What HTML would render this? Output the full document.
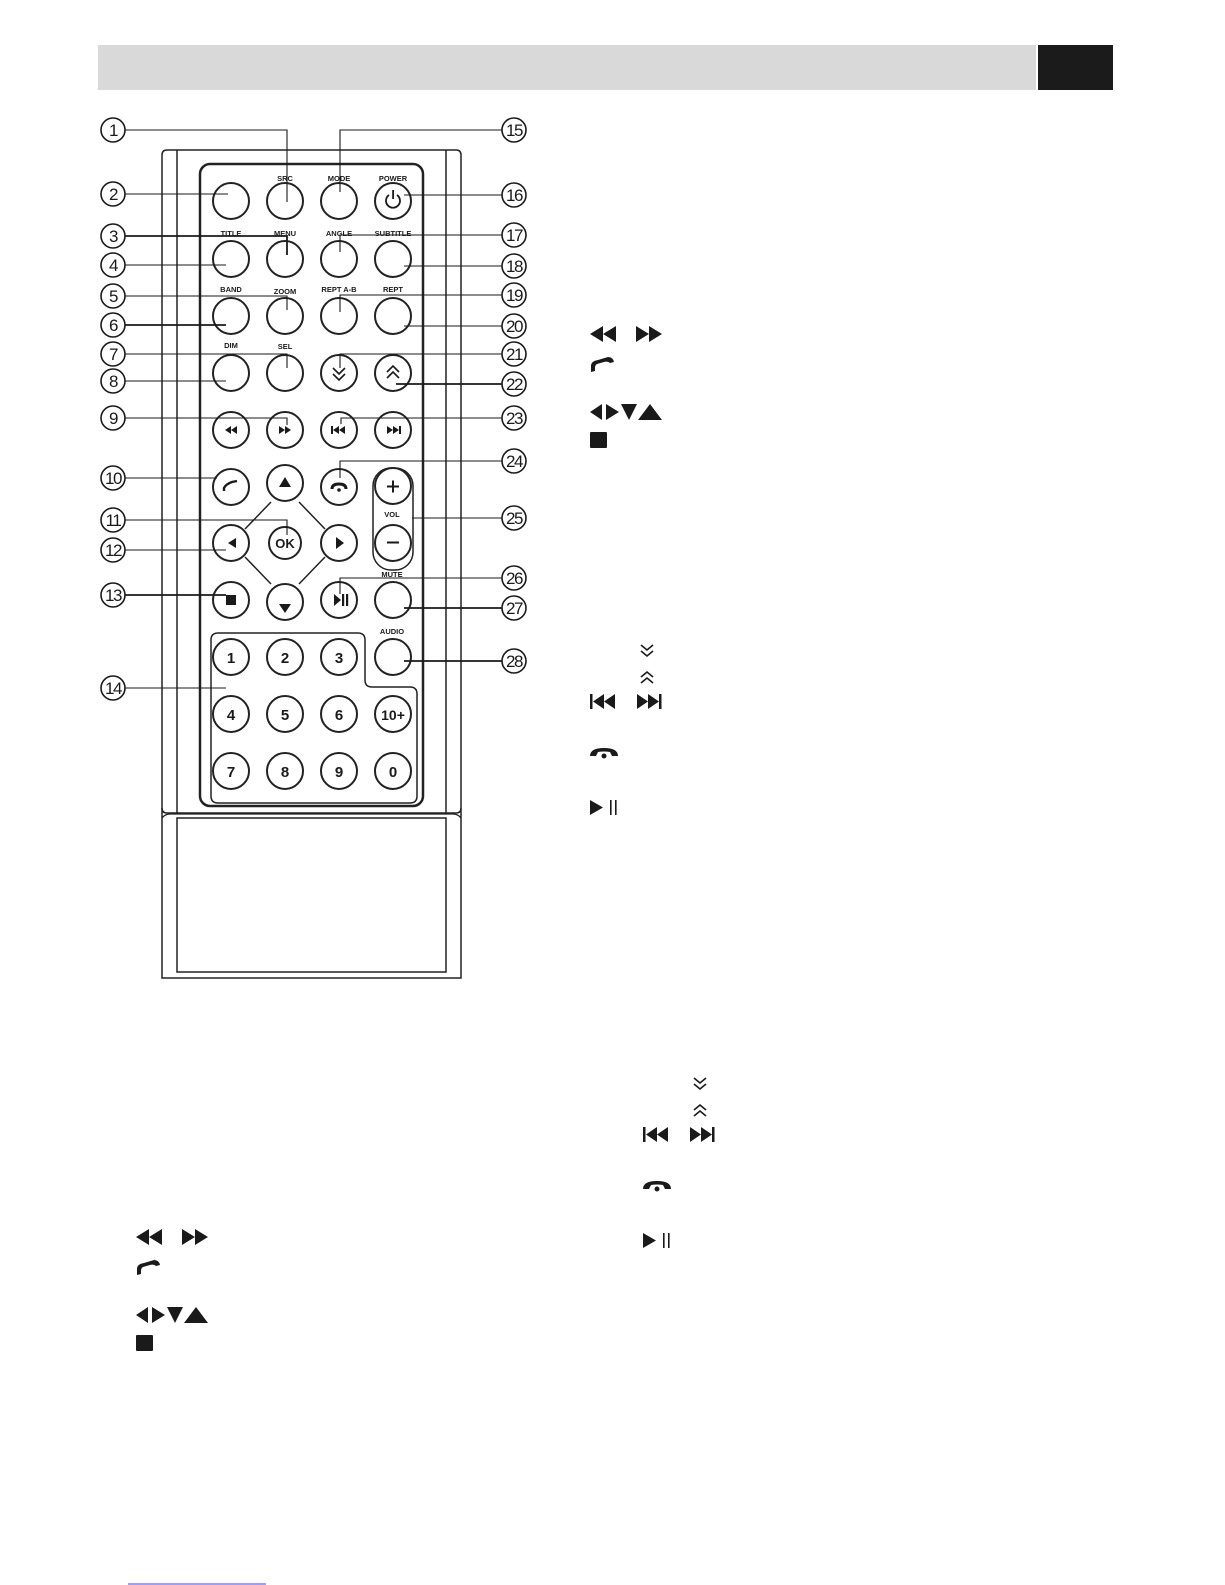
<!DOCTYPE html>
<html><head><meta charset="utf-8"><style>
html,body{margin:0;padding:0;background:#fff;width:1225px;height:1585px;overflow:hidden}
svg{display:block;position:absolute;left:0;top:0}
text{font-family:"Liberation Sans",Arial,sans-serif}
</style></head><body>
<svg width="1225" height="1585" viewBox="0 0 1225 1585" xmlns="http://www.w3.org/2000/svg">
<defs>
<g id="iconsA" fill="#1a1a1a">
  <polygon points="0,8 13,0 13,16"/><polygon points="13,8 26,0 26,16"/>
  <polygon points="46,0 59,8 46,16"/><polygon points="59,0 72,8 59,16"/>
  <path d="M1,46 L1,40 Q1,35 8,34 L18,31 Q23,31 24,36 L20,37 Q18,35 14,36 L7,38 Q5,39 5,42 L5,45 Z"/>
  <polygon points="0,86 12,78 12,94"/><polygon points="16,78 29,86 16,94"/>
  <polygon points="31,78 47,78 39,94"/><polygon points="48,94 60,78 72,94"/>
  <rect x="0" y="106" width="17" height="16" rx="1"/>
</g>
<g id="iconsB" fill="#1a1a1a" stroke="#1a1a1a">
  <path d="M51,3 L57,8 L63,3 M51,9 L57,14 L63,9" fill="none" stroke-width="1.6"/>
  <path d="M51,35 L57,30 L63,35 M51,41 L57,36 L63,41" fill="none" stroke-width="1.6"/>
  <rect x="0" y="52" width="2.5" height="15" stroke="none"/>
  <polygon points="3,59.5 14,52 14,67" stroke="none"/><polygon points="14,59.5 25,52 25,67" stroke="none"/>
  <polygon points="47,52 58,59.5 47,67" stroke="none"/><polygon points="58,52 69,59.5 58,67" stroke="none"/>
  <rect x="69" y="52" width="2.5" height="15" stroke="none"/>
  <path d="M0,114 Q0,106 14,106 Q28,106 28,114 L22,114 L20,110 Q14,109 8,110 L6,114 Z" stroke="none"/>
  <circle cx="14" cy="114" r="2.5" stroke="none"/>
  <polygon points="0,158 13,165.5 0,173" stroke="none"/>
  <rect x="20" y="158" width="1.6" height="15" stroke="none"/><rect x="25" y="158" width="1.6" height="15" stroke="none"/>
</g>
</defs>

<rect x="98" y="45" width="938" height="45" fill="#d9d9d9"/>
<rect x="1038" y="45" width="75" height="45" fill="#1b1b1b"/>

<g fill="none" stroke="#222">
  <path d="M162,155 Q162,150 167,150 L456,150 Q461,150 461,155 L461,808 Q461,813 456,813 L167,813 Q162,813 162,808 Z" stroke-width="1.5"/>
  <line x1="177" y1="150" x2="177" y2="813" stroke-width="1.5"/>
  <line x1="446" y1="150" x2="446" y2="813" stroke-width="1.5"/>
  <path d="M162,808 L162,978 L461,978 L461,808" stroke-width="1.5"/>
  <path d="M162,818 Q165,814 170,814 L453,814 Q458,814 461,818" stroke-width="1.2"/>
  <rect x="177" y="818" width="269" height="154" stroke-width="1.5"/>
  <rect x="200" y="164" width="223" height="642" rx="10" stroke-width="2.5"/>
  <path d="M211,640 Q211,633 218,633 L358,633 Q365,633 365,640 L365,680 Q365,687 372,687 L410,687 Q417,687 417,694 L417,796 Q417,803 410,803 L218,803 Q211,803 211,796 Z" stroke-width="1.5"/>
  <rect x="373" y="468" width="40" height="102" rx="18" stroke-width="1.5"/>
  <path d="M271,502 L245,529 M245,557 L271,584 M299,584 L325,557 M325,529 L299,502" stroke-width="1.5"/>
</g>

<g fill="#fff" stroke="#222" stroke-width="2">
  <circle cx="231" cy="201" r="18"/><circle cx="285" cy="201" r="18"/><circle cx="339" cy="201" r="18"/><circle cx="393" cy="201" r="18"/>
  <circle cx="231" cy="259" r="18"/><circle cx="285" cy="259" r="18"/><circle cx="339" cy="259" r="18"/><circle cx="393" cy="259" r="18"/>
  <circle cx="231" cy="316" r="18"/><circle cx="285" cy="316" r="18"/><circle cx="339" cy="316" r="18"/><circle cx="393" cy="316" r="18"/>
  <circle cx="231" cy="373" r="18"/><circle cx="285" cy="373" r="18"/><circle cx="339" cy="373" r="18"/><circle cx="393" cy="373" r="18"/>
  <circle cx="231" cy="430" r="18"/><circle cx="285" cy="430" r="18"/><circle cx="339" cy="430" r="18"/><circle cx="393" cy="430" r="18"/>
  <circle cx="231" cy="487" r="18"/><circle cx="285" cy="483" r="18"/><circle cx="339" cy="487" r="18"/><circle cx="393" cy="486" r="18"/>
  <circle cx="231" cy="543" r="18"/><circle cx="285" cy="543" r="16"/><circle cx="339" cy="543" r="18"/><circle cx="393" cy="543" r="18"/>
  <circle cx="231" cy="600" r="18"/><circle cx="285" cy="602" r="18"/><circle cx="339" cy="600" r="18"/><circle cx="393" cy="600" r="18"/>
  <circle cx="231" cy="657" r="18"/><circle cx="285" cy="657" r="18"/><circle cx="339" cy="657" r="18"/><circle cx="393" cy="657" r="18"/>
  <circle cx="231" cy="714" r="18"/><circle cx="285" cy="714" r="18"/><circle cx="339" cy="714" r="18"/><circle cx="393" cy="714" r="18"/>
  <circle cx="231" cy="771" r="18"/><circle cx="285" cy="771" r="18"/><circle cx="339" cy="771" r="18"/><circle cx="393" cy="771" r="18"/>
</g>

<g fill="#1a1a1a" stroke="none">
  <path d="M389,195 A7,7 0 1,0 397,195" fill="none" stroke="#1a1a1a" stroke-width="1.8"/>
  <rect x="392.2" y="190" width="1.8" height="9"/>
  <path d="M333,368 L339,374 L345,368 M333,374 L339,380 L345,374" fill="none" stroke="#1a1a1a" stroke-width="1.6"/>
  <path d="M387,378 L393,372 L399,378 M387,372 L393,366 L399,372" fill="none" stroke="#1a1a1a" stroke-width="1.6"/>
  <polygon points="225,430 231,426 231,434"/><polygon points="231,430 237,426 237,434"/>
  <polygon points="279,426 285,430 279,434"/><polygon points="285,426 291,430 285,434"/>
  <rect x="331" y="426" width="2" height="8"/><polygon points="333,430 339,426 339,434"/><polygon points="339,430 345,426 345,434"/>
  <polygon points="387,426 393,430 387,434"/><polygon points="393,426 399,430 393,434"/><rect x="399" y="426" width="2" height="8"/>
  <path d="M224,491 L224,488 Q226,484 232,482 L237,481" fill="none" stroke="#1a1a1a" stroke-width="2.4"/>
  <path d="M332,489 Q332,484 339,484 Q346,484 346,489" fill="none" stroke="#1a1a1a" stroke-width="3"/>
  <circle cx="339" cy="490" r="1.8"/>
  <polygon points="279,487 285,477 291,487"/>
  <polygon points="228,543 236,538 236,548"/>
  <polygon points="336,537 344,543 336,549"/>
  <polygon points="279,604 291,604 285,613"/>
  <rect x="226" y="595" width="10" height="10"/>
  <polygon points="334,594 341,600 334,606"/><rect x="342" y="594" width="2.2" height="12"/><rect x="346" y="594" width="2.2" height="12"/>
  <rect x="387" y="485.5" width="12" height="2"/><rect x="392" y="480.5" width="2" height="12"/>
  <rect x="387" y="541.5" width="12" height="2"/>
</g>
<g font-weight="bold" text-anchor="middle" fill="#1a1a1a">
  <text x="285" y="548" font-size="13">OK</text>
  <g font-size="15">
  <text x="231" y="663">1</text><text x="285" y="663">2</text><text x="339" y="663">3</text>
  <text x="231" y="720">4</text><text x="285" y="720">5</text><text x="339" y="720">6</text><text x="393" y="720" font-size="14">10+</text>
  <text x="231" y="777">7</text><text x="285" y="777">8</text><text x="339" y="777">9</text><text x="393" y="777">0</text>
  </g>
  <g font-size="7.5">
  <text x="285" y="181">SRC</text><text x="339" y="181">MODE</text><text x="393" y="181">POWER</text>
  <text x="231" y="236">TITLE</text><text x="285" y="236">MENU</text><text x="339" y="236">ANGLE</text><text x="393" y="236">SUBTITLE</text>
  <text x="231" y="292">BAND</text><text x="285" y="294">ZOOM</text><text x="339" y="292">REPT A-B</text><text x="393" y="292">REPT</text>
  <text x="231" y="348">DIM</text><text x="285" y="349">SEL</text>
  <text x="392" y="517">VOL</text><text x="392" y="577">MUTE</text><text x="392" y="634">AUDIO</text>
  </g>
</g>

<g fill="none" stroke="#1a1a1a" stroke-width="1.1">
  <path d="M125,130 L287,130 L287,202"/>
  <path d="M502,130 L340,130 L340,192"/>
  <path d="M125,194 L228,194"/>
  <path d="M502,195 L404,195"/>
  <path d="M125,236 L287,236 L287,255" stroke-width="1.8"/>
  <path d="M502,235 L340,235 L340,252"/>
  <path d="M125,265 L226,265"/>
  <path d="M502,266 L404,266"/>
  <path d="M125,296 L287,296 L287,310"/>
  <path d="M502,295 L340,295 L340,312"/>
  <path d="M125,325 L226,325" stroke-width="1.8"/>
  <path d="M502,326 L404,326"/>
  <path d="M125,354 L287,354 L287,368"/>
  <path d="M502,354 L340,354 L340,368"/>
  <path d="M125,381 L226,381"/>
  <path d="M502,384 L396,384" stroke-width="1.8"/>
  <path d="M125,418 L287,418 L287,425"/>
  <path d="M502,418 L341,418 L341,424"/>
  <path d="M125,478 L217,478"/>
  <path d="M502,461 L340,461 L340,478"/>
  <path d="M125,520 L287,520 L287,535"/>
  <path d="M502,518 L412,518"/>
  <path d="M125,550 L226,550"/>
  <path d="M125,595 L226,595" stroke-width="1.8"/>
  <path d="M502,578 L340,578 L340,594"/>
  <path d="M502,608 L404,608" stroke-width="1.8"/>
  <path d="M125,688 L226,688"/>
  <path d="M502,661 L404,661" stroke-width="1.8"/>
</g>

<g fill="#fff" stroke="#1a1a1a" stroke-width="1.6">
  <circle cx="113" cy="130" r="12"/><circle cx="113" cy="194" r="12"/><circle cx="113" cy="236" r="12"/><circle cx="113" cy="265" r="12"/>
  <circle cx="113" cy="296" r="12"/><circle cx="113" cy="325" r="12"/><circle cx="113" cy="354" r="12"/><circle cx="113" cy="381" r="12"/>
  <circle cx="113" cy="418" r="12"/><circle cx="113" cy="478" r="12"/><circle cx="113" cy="520" r="12"/><circle cx="113" cy="550" r="12"/>
  <circle cx="113" cy="595" r="12"/><circle cx="113" cy="688" r="12"/>
  <circle cx="514" cy="130" r="12"/><circle cx="514" cy="195" r="12"/><circle cx="514" cy="235" r="12"/><circle cx="514" cy="266" r="12"/>
  <circle cx="514" cy="295" r="12"/><circle cx="514" cy="326" r="12"/><circle cx="514" cy="354" r="12"/><circle cx="514" cy="384" r="12"/>
  <circle cx="514" cy="418" r="12"/><circle cx="514" cy="461" r="12"/><circle cx="514" cy="518" r="12"/><circle cx="514" cy="578" r="12"/>
  <circle cx="514" cy="608" r="12"/><circle cx="514" cy="661" r="12"/>
</g>
<g font-size="17" text-anchor="middle" fill="#1a1a1a" letter-spacing="-1.5">
  <text x="113" y="136">1</text><text x="113" y="200">2</text><text x="113" y="242">3</text><text x="113" y="271">4</text>
  <text x="113" y="302">5</text><text x="113" y="331">6</text><text x="113" y="360">7</text><text x="113" y="387">8</text>
  <text x="113" y="424">9</text><text x="113" y="484">10</text><text x="113" y="526">11</text><text x="113" y="556">12</text>
  <text x="113" y="601">13</text><text x="113" y="694">14</text>
  <text x="514" y="136">15</text><text x="514" y="201">16</text><text x="514" y="241">17</text><text x="514" y="272">18</text>
  <text x="514" y="301">19</text><text x="514" y="332">20</text><text x="514" y="360">21</text><text x="514" y="390">22</text>
  <text x="514" y="424">23</text><text x="514" y="467">24</text><text x="514" y="524">25</text><text x="514" y="584">26</text>
  <text x="514" y="614">27</text><text x="514" y="667">28</text>
</g>

<use href="#iconsA" transform="translate(590,326)"/>
<use href="#iconsA" transform="translate(136,1229)"/>
<use href="#iconsB" transform="translate(590,642)"/>
<use href="#iconsB" transform="translate(643,1075)"/>

<line x1="128" y1="1584" x2="266" y2="1584" stroke="#3b3bff" stroke-width="1"/>
</svg>
</body></html>
